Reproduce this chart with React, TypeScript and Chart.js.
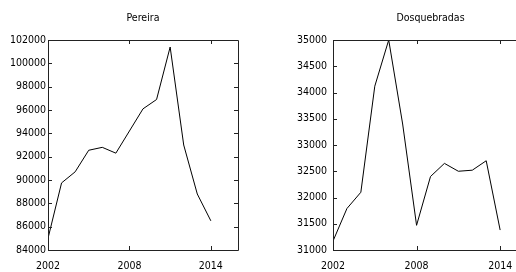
import { useEffect, useRef } from 'react';
import { Chart, registerables } from 'chart.js';

Chart.register(...registerables);

const years = [2002, 2003, 2004, 2005, 2006, 2007, 2008, 2009, 2010, 2011, 2012, 2013, 2014];
const pereira = [85000, 89750, 90700, 92550, 92800, 92300, 94200, 96100, 96900, 101400, 93000, 88800, 86500];
const dosquebradas = [31170, 31790, 32100, 34120, 35000, 33400, 31470, 32400, 32650, 32500, 32520, 32700, 31380];
const xTicks = [2002, 2008, 2014];
const pereiraTicks = [84000, 86000, 88000, 90000, 92000, 94000, 96000, 98000, 100000, 102000];
const dosTicks = [31000, 31500, 32000, 32500, 33000, 33500, 34000, 34500, 35000];

const FONT = '"Liberation Sans Narrow", "DejaVu Sans Condensed", Arial, sans-serif';
const FONT_SIZE = 10.5;

const framePlugin = {
  id: 'frame',
  afterDraw(chart: any) {
    const { ctx, chartArea: a, scales } = chart;
    const L = 4;
    const al = (v: number) => Math.round(v) + 0.5;
    ctx.save();
    ctx.strokeStyle = '#222';
    ctx.lineWidth = 1;
    ctx.beginPath();
    ctx.rect(al(a.left), al(a.top), Math.round(a.right) - Math.round(a.left), Math.round(a.bottom) - Math.round(a.top));
    scales.x.ticks.forEach((t: any) => {
      const px = al(scales.x.getPixelForValue(t.value));
      ctx.moveTo(px, a.bottom);
      ctx.lineTo(px, a.bottom - L);
      ctx.moveTo(px, a.top);
      ctx.lineTo(px, a.top + L);
    });
    scales.y.ticks.forEach((t: any) => {
      const py = al(scales.y.getPixelForValue(t.value));
      ctx.moveTo(a.left, py);
      ctx.lineTo(a.left + L, py);
      ctx.moveTo(a.right, py);
      ctx.lineTo(a.right - L, py);
    });
    ctx.stroke();
    ctx.restore();
  },
};

function makeConfig(title: string, values: number[], yTicks: number[], yWidth: number, yPad: number, rightPad: number) {
  return {
    type: 'line' as const,
    data: {
      datasets: [
        {
          data: years.map((y, i) => ({ x: y, y: values[i] })),
          borderColor: '#000',
          borderWidth: 1,
          pointRadius: 0,
          tension: 0,
          fill: false,
        },
      ],
    },
    options: {
      animation: false,
      responsive: false,
      maintainAspectRatio: false,
      layout: { padding: { left: 0, right: rightPad, top: 0, bottom: 0 } },
      plugins: {
        legend: { display: false },
        tooltip: { enabled: false },
        title: {
          display: true,
          text: title,
          fullSize: false,
          color: '#000',
          font: { family: FONT, size: FONT_SIZE, weight: 'normal' },
          padding: { top: 12, bottom: 15.4 },
        },
      },
      scales: {
        x: {
          type: 'linear',
          min: 2002,
          max: 2016,
          afterBuildTicks: (s: any) => {
            s.ticks = xTicks.map((v) => ({ value: v }));
          },
          afterFit: (s: any) => {
            s.height = 22;
          },
          grid: { display: false, drawTicks: false },
          border: { display: false },
          ticks: {
            color: '#000',
            padding: 9.5,
            maxRotation: 0,
            autoSkip: false,
            font: { family: FONT, size: FONT_SIZE, weight: 'normal' },
            callback: (v: any) => String(v),
          },
        },
        y: {
          type: 'linear',
          min: yTicks[0],
          max: yTicks[yTicks.length - 1],
          afterBuildTicks: (s: any) => {
            s.ticks = yTicks.map((v) => ({ value: v }));
          },
          afterFit: (s: any) => {
            s.width = yWidth;
          },
          grid: { display: false, drawTicks: false },
          border: { display: false },
          ticks: {
            color: '#000',
            padding: yPad,
            autoSkip: false,
            font: { family: FONT, size: FONT_SIZE, weight: 'normal' },
            callback: (v: any) => String(v),
          },
        },
      },
    },
    plugins: [framePlugin],
  };
}

function Panel(props: { left: number; width: number; cfg: any }) {
  const ref = useRef<HTMLCanvasElement>(null);
  useEffect(() => {
    const c = new Chart(ref.current as HTMLCanvasElement, props.cfg);
    return () => c.destroy();
  }, []);
  return (
    <div style={{ position: 'absolute', left: props.left, top: 0, width: props.width, height: 272 }}>
      <canvas ref={ref} width={props.width} height={272} style={{ width: props.width, height: 272, display: 'block' }} />
    </div>
  );
}

export default function App() {
  return (
    <div style={{ position: 'absolute', left: 0, top: 0, width: 516, height: 272, overflow: 'hidden', background: '#fff' }}>
      <Panel left={0} width={258} cfg={makeConfig('Pereira', pereira, pereiraTicks, 48, 2, 20)} />
      <Panel left={258} width={282} cfg={makeConfig('Dosquebradas', dosquebradas, dosTicks, 75, 6, 12)} />
    </div>
  );
}
